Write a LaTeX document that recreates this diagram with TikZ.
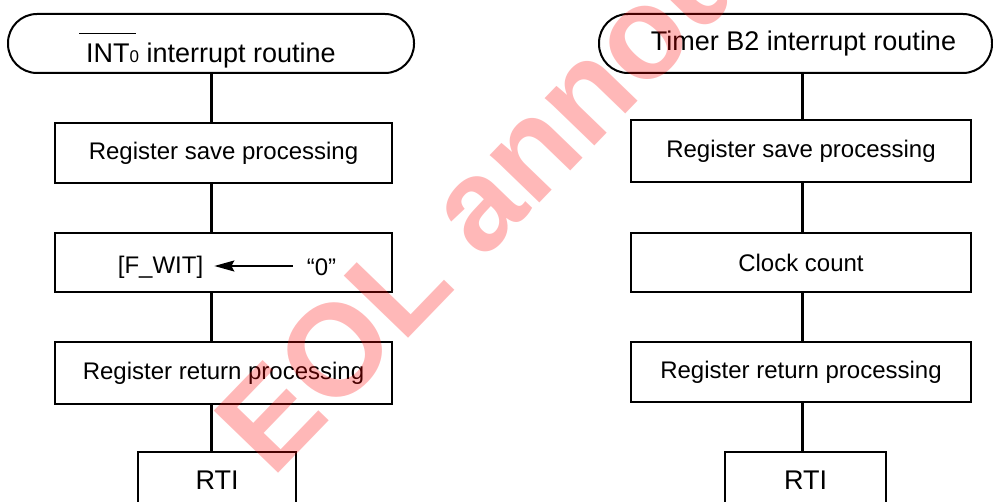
\documentclass[tikz,border=0pt]{standalone}
\usepackage{fontspec}
\setmainfont{Liberation Sans}
\usetikzlibrary{arrows.meta}
\begin{document}
\begin{tikzpicture}[x=1pt,y=-1pt,
  box/.style={draw, line width=2pt, inner sep=0pt, font=\fontsize{24}{28}\selectfont},
  term/.style={draw, line width=2pt, rounded corners=29pt, inner sep=0pt, font=\fontsize{27}{30}\selectfont},
  rti/.style={draw, line width=2pt, anchor=north, inner xsep=0pt, inner ysep=18pt, text height=19.5pt, text depth=60pt, font=\fontsize{27}{30}\selectfont},
  plain/.style={inner sep=0pt, font=\fontsize{24}{28}\selectfont},
  link/.style={line width=3pt},
  wmark/.style={rotate=46, anchor=base west, inner sep=0pt, text=red, text opacity=0.28, font=\fontsize{130}{130}\selectfont\bfseries}
]
\useasboundingbox (0,0) rectangle (993,502);
\clip (0,0) rectangle (993,502);

% left column
\node[term, minimum width=406pt, minimum height=59pt, text height=48pt, text depth=9pt] (t1) at (211,43.5)
  {\rlap{\hspace{-7pt}\rule[29pt]{57pt}{1pt}}INT{\fontsize{17}{17}\selectfont 0} interrupt routine};
\node[box, minimum width=337pt, minimum height=60pt] (a1) at (223.5,153) {Register save processing};
\node[box, minimum width=337pt, minimum height=59pt] (a2) at (223.5,262.5) {};
\node[box, minimum width=337pt, minimum height=62pt] (a3) at (223.5,373) {Register return processing};
\node[rti, minimum width=158pt] (a4) at (217,451) {RTI};
\node[plain] (fw) at (160.5,267) {[F\_WIT]};
\node[plain] (zero) at (321.5,267) {“0”};

% right column
\node[term, minimum width=393pt, minimum height=59pt] (t2) at (795.5,43.5) {\hspace*{16pt}Timer B2 interrupt routine};
\node[box, minimum width=340pt, minimum height=62pt] (b1) at (801,151.5) {Register save processing};
\node[box, minimum width=340pt, minimum height=59pt] (b2) at (801,262.5) {Clock count};
\node[box, minimum width=340pt, minimum height=60pt] (b3) at (801,372) {Register return processing};
\node[rti, minimum width=161pt] (b4) at (805.5,451) {RTI};

\coordinate (lc) at (211,0);
\coordinate (rc) at (802,0);

\draw[link] (lc |- t1.south) -- (lc |- a1.north);
\draw[link] (lc |- a1.south) -- (lc |- a2.north);
\draw[link] (lc |- a2.south) -- (lc |- a3.north);
\draw[link] (lc |- a3.south) -- (lc |- a4.north);

\draw[link] (rc |- t2.south) -- (rc |- b1.north);
\draw[link] (rc |- b1.south) -- (rc |- b2.north);
\draw[link] (rc |- b2.south) -- (rc |- b3.north);
\draw[link] (rc |- b3.south) -- (rc |- b4.north);

\draw[line width=1.8pt, -{Stealth[length=20pt,width=11pt,inset=3pt]}, shorten <=14pt, shorten >=11pt]
  ([yshift=1pt]zero.west) -- ([yshift=1pt]fw.east);

% watermark
\node[wmark] (wm) at (272,480) {EOL announced};
\end{tikzpicture}
\end{document}
